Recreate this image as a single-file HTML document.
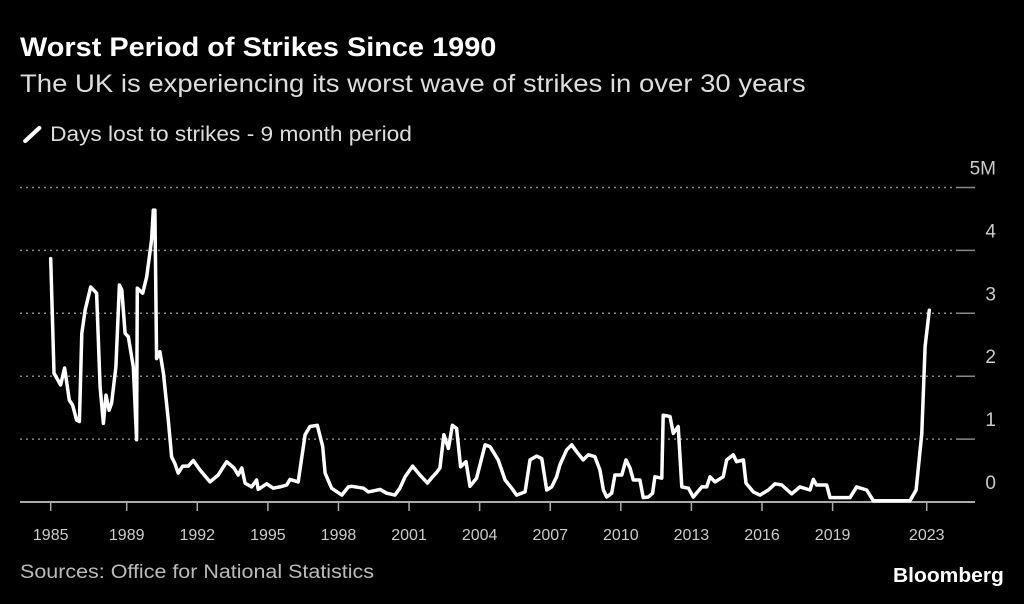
<!DOCTYPE html>
<html><head><meta charset="utf-8"><style>
html,body{margin:0;padding:0;background:#000;}
body{width:1024px;height:604px;overflow:hidden;position:relative;font-family:"Liberation Sans",sans-serif;color:#fff;}
.t{position:absolute;white-space:nowrap;transform-origin:left top;}
</style></head><body>
<div class="t" style="left:20px;top:32px;font-size:27px;font-weight:bold;transform:scaleX(1.07);">Worst Period of Strikes Since 1990</div>
<div class="t" style="left:20px;top:70px;font-size:25px;color:#ddd;transform:scaleX(1.1);">The UK is experiencing its worst wave of strikes in over 30 years</div>
<div class="t" style="left:22px;top:123px;font-size:21px;color:#ddd;transform:scaleX(1.08);"><svg width="20" height="20" style="vertical-align:-3px;margin-right:6px"><line x1="3" y1="17" x2="16" y2="4" stroke="#fff" stroke-width="4" stroke-linecap="round"/></svg>Days lost to strikes - 9 month period</div>
<div class="t" style="left:20px;top:562px;font-size:19px;color:#bbb;transform:scaleX(1.13);">Sources: Office for National Statistics</div>
<div class="t" style="left:893px;top:565px;font-size:20px;font-weight:bold;transform:scaleX(1.05);">Bloomberg</div>
<svg id="chart" width="1024" height="604" style="position:absolute;left:0;top:0"></svg>
<script>
const years=[1985.77,1985.91,1986.19,1986.36,1986.56,1986.70,1986.87,1986.99,1987.09,1987.23,1987.47,1987.72,1987.87,1988.01,1988.12,1988.25,1988.36,1988.54,1988.69,1988.79,1988.93,1989.07,1989.28,1989.42,1989.45,1989.68,1989.85,1990.06,1990.13,1990.20,1990.27,1990.41,1990.56,1990.77,1990.91,1991.05,1991.19,1991.38,1991.62,1991.83,1992.11,1992.54,1992.89,1993.25,1993.56,1993.74,1993.89,1994.03,1994.31,1994.52,1994.59,1994.95,1995.23,1995.51,1995.80,1995.94,1996.29,1996.58,1996.79,1997.10,1997.33,1997.43,1997.71,1998.14,1998.42,1998.56,1999.06,1999.27,1999.77,2000.05,2000.40,2000.61,2000.83,2001.15,2001.46,2001.78,2002.00,2002.17,2002.31,2002.48,2002.67,2002.84,2003.02,2003.19,2003.42,2003.59,2003.87,2004.23,2004.44,2004.79,2005.08,2005.36,2005.57,2005.93,2006.14,2006.42,2006.64,2006.85,2007.06,2007.27,2007.41,2007.70,2007.91,2008.12,2008.40,2008.62,2008.90,2009.11,2009.26,2009.40,2009.61,2009.75,2010.04,2010.22,2010.39,2010.53,2010.81,2010.95,2011.17,2011.35,2011.45,2011.74,2011.80,2012.09,2012.23,2012.44,2012.59,2012.87,2013.08,2013.44,2013.65,2013.79,2014.00,2014.35,2014.50,2014.78,2014.92,2015.21,2015.32,2015.63,2015.91,2016.27,2016.55,2016.84,2017.26,2017.61,2018.04,2018.18,2018.32,2018.75,2018.89,2019.74,2020.02,2020.45,2020.73,2022.29,2022.55,2022.79,2022.93,2023.11];
const daysLost=[3.87,2.05,1.86,2.13,1.62,1.54,1.30,1.28,2.68,3.05,3.42,3.32,1.83,1.25,1.70,1.46,1.57,2.15,3.45,3.37,2.68,2.63,2.15,0.99,3.40,3.32,3.58,4.17,4.64,4.64,2.28,2.39,2.05,1.30,0.72,0.61,0.46,0.57,0.57,0.66,0.51,0.32,0.43,0.64,0.54,0.43,0.54,0.30,0.24,0.35,0.20,0.29,0.22,0.24,0.27,0.36,0.32,1.07,1.20,1.22,0.88,0.46,0.22,0.11,0.24,0.25,0.22,0.16,0.20,0.14,0.11,0.22,0.40,0.57,0.43,0.30,0.40,0.47,0.54,1.07,0.85,1.22,1.17,0.56,0.64,0.25,0.38,0.91,0.88,0.67,0.35,0.22,0.11,0.16,0.67,0.73,0.69,0.19,0.24,0.40,0.59,0.83,0.91,0.80,0.67,0.75,0.72,0.51,0.19,0.08,0.14,0.43,0.43,0.67,0.54,0.35,0.35,0.07,0.08,0.14,0.40,0.38,1.38,1.36,1.09,1.20,0.24,0.22,0.08,0.24,0.24,0.40,0.32,0.40,0.67,0.75,0.64,0.67,0.30,0.16,0.11,0.19,0.29,0.27,0.13,0.24,0.19,0.36,0.27,0.27,0.07,0.07,0.24,0.19,0.02,0.02,0.19,1.09,2.47,3.05];
const yTicks=[0,1,2,3,4,5];
const yTickLabels=["0","1","2","3","4","5M"];
const xTicks=[1985.77,1989,1992,1995,1998,2001,2004,2007,2010,2013,2016,2019,2023];
const xTickLabels=["1985","1989","1992","1995","1998","2001","2004","2007","2010","2013","2016","2019","2023"];

const svg=document.getElementById('chart');
const NS='http://www.w3.org/2000/svg';
const X=t=>126.7+(t-1989)*23.53;
const Y=v=>502-v*62.9;
function mk(tag,attrs){const e=document.createElementNS(NS,tag);for(const k in attrs)e.setAttribute(k,attrs[k]);svg.appendChild(e);return e;}
yTicks.forEach((v,i)=>{
  if(v>0){
    const g=mk('line',{x1:20,x2:958,y1:Y(v),y2:Y(v),stroke:'#888','stroke-width':1.5,'stroke-dasharray':'2,4'});
    
    
    const s=mk('line',{x1:958,x2:975,y1:Y(v),y2:Y(v),stroke:'#888','stroke-width':1.5});
    
    
  }
  const t=mk('text',{x:996,y:Y(v)-13,'text-anchor':'end',fill:'#ccc','font-size':19,'font-family':'Liberation Sans, sans-serif'});
  t.textContent=yTickLabels[i];
  
  
});
const base=mk('line',{x1:20,x2:975,y1:502,y2:502,stroke:'#aaa','stroke-width':2});


xTicks.forEach((t,i)=>{
  const l=mk('line',{x1:X(t),x2:X(t),y1:502,y2:511,stroke:'#aaa','stroke-width':1.5});
  
  
  const tx=mk('text',{x:X(t),y:540,'text-anchor':'middle',fill:'#ccc','font-size':16,'font-family':'Liberation Sans, sans-serif'});
  tx.textContent=xTickLabels[i];
  
  
});
const pts=years.map((t,i)=>X(t).toFixed(1)+','+Y(daysLost[i]).toFixed(1)).join(' ');
const line=mk('polyline',{points:pts,fill:'none',stroke:'#fff','stroke-width':3.5,'stroke-linejoin':'round','stroke-linecap':'round'});


</script>
</body></html>
